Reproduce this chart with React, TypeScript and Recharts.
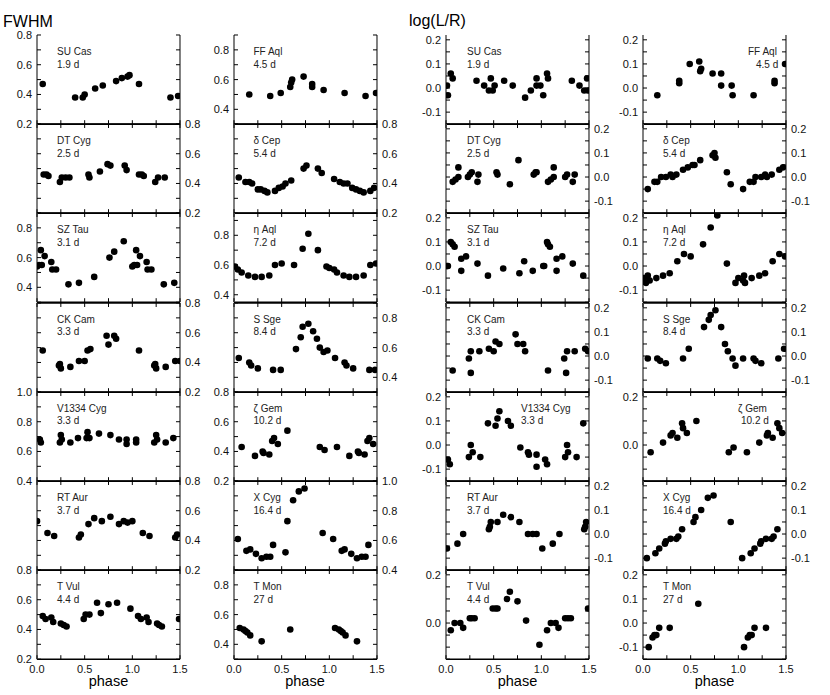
import React from 'react';
import { ScatterChart, Scatter, XAxis, YAxis } from 'recharts';

const FONT = '"Liberation Sans", Arial, Helvetica, sans-serif';

// phase axis
const phaseTicks = [0, 0.25, 0.5, 0.75, 1, 1.25, 1.5];
const phaseLabels = [0, 0.5, 1, 1.5];

// y ticks and labels
const ticks28 = [0.2, 0.3, 0.4, 0.5, 0.6, 0.7, 0.8];
const ticks39 = [0.3, 0.4, 0.5, 0.6, 0.7, 0.8, 0.9];
const ticks49 = [0.4, 0.5, 0.6, 0.7, 0.8, 0.9];
const ticks410 = [0.4, 0.5, 0.6, 0.7, 0.8, 0.9, 1.0];
const logTicks = [-0.15, -0.1, -0.05, 0, 0.05, 0.1, 0.15, 0.2];
const labels28 = [0.2, 0.4, 0.6, 0.8];
const labels48 = [0.4, 0.6, 0.8];
const labels410 = [0.4, 0.6, 0.8, 1.0];
const logLabels = [-0.1, 0, 0.1, 0.2];
const logLabelsShort = [0, 0.2];

// stars
const shortStars = ['SU Cas', 'DT Cyg', 'SZ Tau', 'CK Cam', 'V1334 Cyg', 'RT Aur', 'T Vul'];
const shortPeriods = ['1.9 d', '2.5 d', '3.1 d', '3.3 d', '3.3 d', '3.7 d', '4.4 d'];
const longStars = ['FF Aql', 'δ Cep', 'η Aql', 'S Sge', 'ζ Gem', 'X Cyg', 'T Mon'];
const longPeriods = ['4.5 d', '5.4 d', '7.2 d', '8.4 d', '10.2 d', '16.4 d', '27 d'];

// FWHM, [phase, value]
const suCasFwhm = [[0.06, 0.47], [0.40, 0.38], [0.48, 0.38], [0.50, 0.40], [0.61, 0.44], [0.69, 0.46], [0.83, 0.49], [0.89, 0.51], [0.95, 0.52], [0.97, 0.53], [1.07, 0.47], [1.40, 0.38], [1.48, 0.39]];
const dtCygFwhm = [[0.07, 0.46], [0.10, 0.46], [0.12, 0.45], [0.24, 0.41], [0.26, 0.44], [0.30, 0.44], [0.34, 0.44], [0.54, 0.46], [0.55, 0.44], [0.66, 0.48], [0.74, 0.53], [0.77, 0.52], [0.92, 0.52], [0.94, 0.49], [1.07, 0.46], [1.10, 0.46], [1.12, 0.45], [1.24, 0.41], [1.27, 0.44], [1.34, 0.44]];
const szTauFwhm = [[0.00, 0.54], [0.02, 0.55], [0.04, 0.65], [0.05, 0.55], [0.08, 0.61], [0.15, 0.57], [0.16, 0.52], [0.20, 0.52], [0.33, 0.42], [0.44, 0.43], [0.60, 0.47], [0.76, 0.60], [0.81, 0.64], [0.91, 0.71], [1.00, 0.54], [1.02, 0.55], [1.04, 0.65], [1.05, 0.55], [1.08, 0.61], [1.15, 0.57], [1.16, 0.52], [1.20, 0.52], [1.33, 0.42], [1.44, 0.43]];
const ckCamFwhm = [[0.06, 0.48], [0.23, 0.38], [0.24, 0.39], [0.25, 0.36], [0.35, 0.37], [0.44, 0.41], [0.50, 0.41], [0.53, 0.48], [0.56, 0.49], [0.73, 0.58], [0.75, 0.52], [0.81, 0.58], [0.83, 0.56], [1.07, 0.48], [1.23, 0.38], [1.24, 0.39], [1.25, 0.36], [1.35, 0.37], [1.45, 0.41], [1.50, 0.41]];
const v1334CygFwhm = [[0.03, 0.68], [0.04, 0.66], [0.24, 0.66], [0.25, 0.71], [0.26, 0.68], [0.35, 0.66], [0.43, 0.69], [0.52, 0.69], [0.53, 0.73], [0.55, 0.69], [0.65, 0.72], [0.77, 0.71], [0.86, 0.68], [0.94, 0.68], [0.94, 0.65], [1.04, 0.68], [1.04, 0.66], [1.23, 0.66], [1.25, 0.71], [1.26, 0.68], [1.35, 0.66], [1.43, 0.69]];
const rtAurFwhm = [[0.00, 0.53], [0.11, 0.45], [0.18, 0.43], [0.44, 0.42], [0.46, 0.44], [0.54, 0.51], [0.60, 0.55], [0.68, 0.53], [0.77, 0.56], [0.86, 0.51], [0.91, 0.53], [0.95, 0.52], [1.00, 0.53], [1.11, 0.45], [1.18, 0.43], [1.45, 0.42], [1.47, 0.44]];
const tVulFwhm = [[0.06, 0.49], [0.09, 0.47], [0.15, 0.48], [0.17, 0.45], [0.25, 0.44], [0.28, 0.43], [0.31, 0.42], [0.49, 0.47], [0.51, 0.50], [0.55, 0.50], [0.63, 0.58], [0.67, 0.51], [0.75, 0.57], [0.84, 0.58], [0.98, 0.54], [1.06, 0.49], [1.09, 0.47], [1.15, 0.48], [1.17, 0.45], [1.26, 0.44], [1.28, 0.43], [1.31, 0.42], [1.49, 0.47]];
const ffAqlFwhm = [[0.16, 0.50], [0.38, 0.49], [0.49, 0.51], [0.59, 0.55], [0.60, 0.58], [0.61, 0.60], [0.73, 0.62], [0.82, 0.57], [0.82, 0.55], [0.94, 0.53], [1.16, 0.51], [1.38, 0.49], [1.49, 0.51]];
const dCepFwhm = [[0.05, 0.44], [0.12, 0.41], [0.16, 0.41], [0.19, 0.40], [0.25, 0.36], [0.28, 0.36], [0.32, 0.35], [0.35, 0.34], [0.43, 0.35], [0.47, 0.37], [0.51, 0.38], [0.54, 0.40], [0.60, 0.42], [0.73, 0.50], [0.76, 0.52], [0.88, 0.50], [0.92, 0.47], [1.05, 0.43], [1.11, 0.41], [1.15, 0.40], [1.19, 0.40], [1.24, 0.37], [1.28, 0.36], [1.32, 0.35], [1.36, 0.34], [1.43, 0.35], [1.47, 0.37]];
const etaAqlFwhm = [[0.01, 0.59], [0.04, 0.57], [0.08, 0.55], [0.15, 0.53], [0.22, 0.52], [0.29, 0.52], [0.37, 0.53], [0.43, 0.60], [0.50, 0.61], [0.63, 0.60], [0.72, 0.71], [0.78, 0.81], [0.88, 0.70], [0.97, 0.59], [1.00, 0.58], [1.05, 0.57], [1.08, 0.55], [1.15, 0.53], [1.21, 0.52], [1.28, 0.52], [1.36, 0.53], [1.43, 0.60], [1.49, 0.61]];
const sSgeFwhm = [[0.05, 0.53], [0.16, 0.50], [0.18, 0.48], [0.25, 0.46], [0.41, 0.45], [0.49, 0.45], [0.65, 0.59], [0.70, 0.67], [0.72, 0.74], [0.78, 0.76], [0.83, 0.71], [0.87, 0.66], [0.90, 0.60], [0.94, 0.57], [0.98, 0.58], [1.06, 0.53], [1.16, 0.50], [1.18, 0.48], [1.25, 0.46], [1.42, 0.45], [1.48, 0.45]];
const zetaGemFwhm = [[0.08, 0.43], [0.22, 0.37], [0.30, 0.40], [0.31, 0.39], [0.37, 0.38], [0.40, 0.47], [0.42, 0.49], [0.46, 0.45], [0.56, 0.54], [0.90, 0.43], [0.95, 0.41], [1.08, 0.43], [1.21, 0.37], [1.30, 0.40], [1.31, 0.39], [1.37, 0.38], [1.40, 0.47], [1.42, 0.49], [1.46, 0.45]];
const xCygFwhm = [[0.04, 0.61], [0.13, 0.53], [0.17, 0.54], [0.23, 0.51], [0.29, 0.48], [0.34, 0.49], [0.38, 0.49], [0.41, 0.57], [0.54, 0.52], [0.56, 0.73], [0.62, 0.87], [0.68, 0.93], [0.74, 0.95], [0.93, 0.65], [1.04, 0.61], [1.13, 0.53], [1.16, 0.54], [1.23, 0.51], [1.29, 0.48], [1.34, 0.49], [1.38, 0.49], [1.41, 0.57]];
const tMonFwhm = [[0.06, 0.51], [0.10, 0.50], [0.12, 0.49], [0.14, 0.48], [0.17, 0.46], [0.29, 0.42], [0.59, 0.50], [1.06, 0.51], [1.10, 0.50], [1.12, 0.49], [1.14, 0.48], [1.17, 0.46], [1.29, 0.42]];

// log(L/R), [phase, value]
const suCasLog = [[0.01, 0.01], [0.02, -0.03], [0.05, 0.06], [0.07, 0.04], [0.32, 0.03], [0.40, 0.01], [0.45, -0.01], [0.47, 0.04], [0.49, -0.01], [0.51, 0.01], [0.61, 0.03], [0.70, 0.01], [0.83, -0.04], [0.89, -0.01], [0.95, 0.04], [0.95, 0.01], [0.99, 0.01], [1.02, -0.03], [1.06, 0.06], [1.07, 0.04], [1.32, 0.03], [1.40, 0.01], [1.45, -0.01], [1.48, 0.04], [1.49, -0.01]];
const dtCygLog = [[0.07, -0.02], [0.10, -0.01], [0.13, 0.0], [0.13, 0.04], [0.23, 0.0], [0.25, 0.01], [0.27, 0.02], [0.33, -0.02], [0.34, 0.01], [0.53, 0.02], [0.54, 0.01], [0.67, -0.03], [0.76, 0.07], [0.92, 0.01], [0.94, 0.02], [0.95, 0.02], [1.07, -0.02], [1.10, -0.01], [1.13, 0.0], [1.13, 0.04], [1.25, 0.0], [1.27, 0.01], [1.33, -0.02], [1.35, 0.01]];
const szTauLog = [[0.01, 0.0], [0.02, 0.0], [0.05, 0.10], [0.07, 0.09], [0.09, 0.08], [0.16, -0.02], [0.16, 0.03], [0.21, 0.04], [0.33, 0.01], [0.44, -0.04], [0.60, -0.01], [0.77, -0.03], [0.82, 0.02], [0.91, -0.02], [1.02, 0.0], [1.03, 0.0], [1.06, 0.10], [1.07, 0.09], [1.09, 0.08], [1.16, -0.02], [1.16, 0.03], [1.22, 0.04], [1.33, 0.01], [1.44, -0.04]];
const ckCamLog = [[0.07, -0.06], [0.24, -0.01], [0.26, -0.07], [0.26, 0.02], [0.35, 0.02], [0.45, 0.03], [0.50, 0.02], [0.52, 0.06], [0.56, 0.05], [0.73, 0.09], [0.75, 0.05], [0.81, 0.05], [0.83, 0.02], [1.07, -0.06], [1.24, -0.01], [1.26, -0.07], [1.27, 0.02], [1.35, 0.02], [1.46, 0.03], [1.49, 0.02]];
const v1334CygLog = [[0.02, -0.06], [0.04, -0.08], [0.24, -0.05], [0.26, 0.0], [0.28, -0.03], [0.36, -0.05], [0.44, 0.09], [0.52, 0.08], [0.54, 0.11], [0.56, 0.14], [0.65, 0.10], [0.68, 0.08], [0.78, -0.01], [0.86, -0.03], [0.87, -0.04], [0.95, -0.04], [0.95, -0.09], [1.04, -0.06], [1.06, -0.08], [1.25, -0.05], [1.27, 0.0], [1.28, -0.03], [1.37, -0.05], [1.44, 0.09]];
const rtAurLog = [[0.01, -0.06], [0.12, -0.04], [0.18, 0.0], [0.45, 0.02], [0.46, 0.03], [0.47, 0.05], [0.54, 0.05], [0.60, 0.08], [0.68, 0.07], [0.77, 0.05], [0.86, 0.0], [0.91, 0.0], [0.95, 0.0], [1.01, -0.06], [1.12, -0.04], [1.19, 0.0], [1.45, 0.02], [1.46, 0.03], [1.47, 0.05]];
const tVulLog = [[0.05, -0.03], [0.09, 0.0], [0.15, 0.0], [0.18, -0.02], [0.25, 0.02], [0.27, 0.02], [0.30, 0.02], [0.49, 0.06], [0.52, 0.06], [0.54, 0.06], [0.64, 0.10], [0.67, 0.13], [0.75, 0.09], [0.84, 0.01], [0.98, -0.09], [1.06, -0.03], [1.10, 0.0], [1.15, 0.0], [1.18, -0.02], [1.25, 0.02], [1.28, 0.02], [1.31, 0.02], [1.49, 0.06]];
const ffAqlLog = [[0.15, -0.03], [0.38, 0.03], [0.38, 0.02], [0.49, 0.10], [0.59, 0.11], [0.60, 0.07], [0.61, 0.08], [0.73, 0.06], [0.82, 0.06], [0.82, 0.01], [0.93, 0.01], [0.94, -0.03], [1.16, -0.03], [1.38, 0.03], [1.38, 0.02], [1.49, 0.10]];
const dCepLog = [[0.05, -0.05], [0.12, -0.02], [0.15, -0.02], [0.19, 0.0], [0.24, 0.0], [0.29, 0.01], [0.31, 0.0], [0.35, 0.01], [0.42, 0.03], [0.47, 0.04], [0.52, 0.05], [0.54, 0.05], [0.60, 0.07], [0.73, 0.09], [0.75, 0.10], [0.76, 0.08], [0.88, 0.02], [0.92, -0.03], [1.05, -0.05], [1.12, -0.02], [1.16, -0.02], [1.18, 0.0], [1.24, 0.0], [1.28, 0.01], [1.30, 0.0], [1.35, 0.01], [1.43, 0.03], [1.47, 0.04]];
const etaAqlLog = [[0.01, -0.05], [0.03, -0.07], [0.05, -0.04], [0.07, -0.06], [0.14, -0.05], [0.21, -0.04], [0.28, -0.03], [0.36, 0.02], [0.43, 0.05], [0.50, 0.04], [0.63, 0.09], [0.71, 0.16], [0.78, 0.21], [0.88, 0.01], [0.97, -0.07], [1.00, -0.05], [1.05, -0.06], [1.06, -0.04], [1.07, -0.07], [1.14, -0.05], [1.22, -0.04], [1.28, -0.03], [1.36, 0.02], [1.43, 0.05], [1.49, 0.04]];
const sSgeLog = [[0.05, -0.01], [0.15, -0.01], [0.18, -0.02], [0.24, -0.03], [0.42, -0.01], [0.48, 0.03], [0.64, 0.12], [0.69, 0.15], [0.71, 0.17], [0.76, 0.19], [0.82, 0.12], [0.86, 0.05], [0.89, 0.02], [0.94, -0.01], [0.97, -0.04], [1.05, -0.01], [1.16, -0.01], [1.18, -0.02], [1.24, -0.03], [1.42, -0.01], [1.48, 0.03]];
const zetaGemLog = [[0.08, -0.03], [0.21, 0.01], [0.29, 0.04], [0.31, 0.05], [0.36, 0.03], [0.41, 0.09], [0.42, 0.07], [0.46, 0.05], [0.56, 0.10], [0.90, -0.03], [0.95, -0.01], [1.09, -0.03], [1.22, 0.01], [1.30, 0.04], [1.31, 0.05], [1.36, 0.03], [1.41, 0.09], [1.43, 0.07], [1.46, 0.05]];
const xCygLog = [[0.04, -0.10], [0.13, -0.08], [0.17, -0.06], [0.23, -0.04], [0.24, -0.03], [0.29, -0.02], [0.35, -0.02], [0.37, -0.01], [0.41, 0.02], [0.53, 0.05], [0.55, 0.07], [0.61, 0.10], [0.68, 0.15], [0.74, 0.16], [0.92, 0.05], [1.04, -0.10], [1.13, -0.08], [1.17, -0.06], [1.23, -0.04], [1.24, -0.03], [1.29, -0.02], [1.35, -0.02], [1.37, -0.01], [1.41, 0.02]];
const tMonLog = [[0.06, -0.10], [0.10, -0.06], [0.12, -0.05], [0.14, -0.05], [0.17, -0.02], [0.28, -0.02], [0.58, 0.08], [1.06, -0.10], [1.10, -0.06], [1.12, -0.05], [1.14, -0.05], [1.17, -0.02], [1.29, -0.02]];

const shortFwhm = [suCasFwhm, dtCygFwhm, szTauFwhm, ckCamFwhm, v1334CygFwhm, rtAurFwhm, tVulFwhm];
const longFwhm = [ffAqlFwhm, dCepFwhm, etaAqlFwhm, sSgeFwhm, zetaGemFwhm, xCygFwhm, tMonFwhm];
const shortLog = [suCasLog, dtCygLog, szTauLog, ckCamLog, v1334CygLog, rtAurLog, tVulLog];
const longLog = [ffAqlLog, dCepLog, etaAqlLog, sSgeLog, zetaGemLog, xCygLog, tMonLog];

// y scale of each FWHM panel
const shortFwhmDomains = [[0.2, 0.8], [0.2, 0.8], [0.3, 0.9], [0.2, 0.8], [0.4, 1.0], [0.2, 0.8], [0.2, 0.8]];
const shortFwhmTicks = [ticks28, ticks28, ticks39, ticks28, ticks410, ticks28, ticks28];
const shortFwhmLabels = [labels28, labels28, labels48, labels28, labels410, labels28, labels28];
const longFwhmDomains = [[0.3, 0.9], [0.2, 0.8], [0.35, 0.95], [0.3, 0.9], [0.2, 0.8], [0.4, 1.0], [0.3, 0.9]];
const longFwhmTicks = [ticks39, ticks28, ticks49, ticks39, ticks28, ticks410, ticks39];
const longFwhmLabels = [labels48, labels28, labels48, labels48, labels28, labels410, labels48];
const logDomain = [-0.15, 0.22];

// layout
const COL_LEFT = [37, 233.5, 446, 643];
const PLOT_W = 143;
const ROW_TOP = 35;
const ROW_H = 89.2;
const AXIS_W = 30;
const TICK = 4;

type Panel = {
  col: number;
  row: number;
  data: number[][];
  domain: number[];
  ticks: number[];
  labels: number[];
  name: string;
  period: string;
  nameDx: number;
  periodDx: number;
};

const panels: Panel[] = [];
for (let r = 0; r < 7; r++) {
  panels.push({ col: 0, row: r, data: shortFwhm[r], domain: shortFwhmDomains[r], ticks: shortFwhmTicks[r], labels: shortFwhmLabels[r], name: shortStars[r], period: shortPeriods[r], nameDx: 20, periodDx: 20 });
  panels.push({ col: 1, row: r, data: longFwhm[r], domain: longFwhmDomains[r], ticks: longFwhmTicks[r], labels: longFwhmLabels[r], name: longStars[r], period: longPeriods[r], nameDx: 20, periodDx: 20 });
  panels.push({ col: 2, row: r, data: shortLog[r], domain: logDomain, ticks: logTicks, labels: r === 6 ? logLabelsShort : logLabels, name: shortStars[r], period: shortPeriods[r], nameDx: r === 4 ? 75 : 21, periodDx: r === 4 ? 75 : 21 });
  panels.push({ col: 3, row: r, data: longLog[r], domain: logDomain, ticks: logTicks, labels: r === 4 ? logLabelsShort : logLabels, name: longStars[r], period: longPeriods[r], nameDx: r === 0 ? 105 : r === 4 ? 95 : 20, periodDx: r === 0 ? 113 : r === 4 ? 98 : 20 });
}

const near = (list: number[], v: number) => list.some((l) => Math.abs(l - v) < 1e-6);
const fmt = (v: number) => (Math.abs(v) < 1e-9 ? 0 : v).toFixed(1);

function YTick(props: any) {
  const { x, y, payload, side, labels, showText } = props;
  const v = payload.value;
  const dir = side === 'left' ? 1 : -1;
  return (
    <g>
      <line x1={x} y1={y} x2={x + dir * TICK} y2={y} stroke="#000" strokeWidth={1} />
      {showText && near(labels, v) && (
        <text x={x - dir * 5} y={y} dy="0.36em" textAnchor={side === 'left' ? 'end' : 'start'} fontSize={11} fontFamily={FONT} fill="#111">
          {fmt(v)}
        </text>
      )}
    </g>
  );
}

function XTick(props: any) {
  const { x, y, payload, side, showText } = props;
  const v = payload.value;
  const dir = side === 'bottom' ? -1 : 1;
  return (
    <g>
      <line x1={x} y1={y} x2={x} y2={y + dir * TICK} stroke="#000" strokeWidth={1} />
      {showText && near(phaseLabels, v) && (
        <text x={x} y={y + 14} textAnchor="middle" fontSize={11} fontFamily={FONT} fill="#111">
          {fmt(v)}
        </text>
      )}
    </g>
  );
}

const Dot = (p: any) => <circle cx={p.cx} cy={p.cy} r={3.3} fill="#000" />;

function PanelChart({ p }: { p: Panel }) {
  const bottomRow = p.row === 6;
  const hasTop = p.row > 0;
  const labelSide = p.row % 2 === 0 ? 'left' : 'right';
  const padT = 10;
  const padB = bottomRow ? 22 : 10;
  const top = ROW_TOP + p.row * ROW_H;
  const data = p.data.map(([x, y]) => ({ x, y }));
  // each x axis takes 1px of band; the margins give it back so the plot box keeps its size
  return (
    <div style={{ position: 'absolute', left: COL_LEFT[p.col] - AXIS_W, top: top - padT }}>
      <ScatterChart
        width={PLOT_W + 2 * AXIS_W}
        height={ROW_H + padT + padB}
        margin={{ top: hasTop ? padT - 1 : padT, bottom: padB - 1, left: 0, right: 0 }}
      >
        <XAxis
          xAxisId="b"
          type="number"
          dataKey="x"
          orientation="bottom"
          domain={[0, 1.5]}
          ticks={phaseTicks}
          interval={0}
          height={1}
          tickSize={0}
          tickMargin={0}
          allowDataOverflow
          axisLine={{ stroke: '#000', strokeWidth: 1.5 }}
          tickLine={false}
          tick={(t: any) => <XTick {...t} side="bottom" showText={bottomRow} />}
        />
        {hasTop && (
          <XAxis
            xAxisId="t"
            type="number"
            dataKey="x"
            orientation="top"
            domain={[0, 1.5]}
            ticks={phaseTicks}
            interval={0}
            height={1}
            tickSize={0}
            tickMargin={0}
            allowDataOverflow
            axisLine={{ stroke: '#000', strokeWidth: 1.5 }}
            tickLine={false}
            tick={(t: any) => <XTick {...t} side="top" showText={false} />}
          />
        )}
        <YAxis
          yAxisId="l"
          type="number"
          dataKey="y"
          orientation="left"
          width={AXIS_W}
          domain={p.domain}
          ticks={p.ticks}
          interval={0}
          tickSize={0}
          tickMargin={0}
          allowDataOverflow
          axisLine={{ stroke: '#808080', strokeWidth: 2 }}
          tickLine={false}
          tick={(t: any) => <YTick {...t} side="left" labels={p.labels} showText={labelSide === 'left'} />}
        />
        <YAxis
          yAxisId="r"
          type="number"
          dataKey="y"
          orientation="right"
          width={AXIS_W}
          domain={p.domain}
          ticks={p.ticks}
          interval={0}
          tickSize={0}
          tickMargin={0}
          allowDataOverflow
          axisLine={{ stroke: '#000', strokeWidth: 1 }}
          tickLine={false}
          tick={(t: any) => <YTick {...t} side="right" labels={p.labels} showText={labelSide === 'right'} />}
        />
        <Scatter xAxisId="b" yAxisId="l" data={data} shape={Dot} isAnimationActive={false} />
      </ScatterChart>
    </div>
  );
}

export default function App() {
  return (
    <div style={{ position: 'absolute', left: 0, top: 0, width: 830, height: 695, background: '#fff', fontFamily: FONT }}>
      {panels.map((p) => (
        <PanelChart key={`${p.col}-${p.row}`} p={p} />
      ))}
      <svg width={830} height={695} style={{ position: 'absolute', left: 0, top: 0, pointerEvents: 'none' }}>
        <text x={3} y={26.5} fontSize={16} fontFamily={FONT} fill="#000">FWHM</text>
        <text x={409} y={26} fontSize={16} fontFamily={FONT} fill="#000">log(L/R)</text>
        {panels.map((p) => {
          const left = COL_LEFT[p.col];
          const top = ROW_TOP + p.row * ROW_H;
          return (
            <g key={`lab-${p.col}-${p.row}`} fontSize={10} fontFamily={FONT} fill="#222">
              <text x={left + p.nameDx} y={top + 20}>{p.name}</text>
              <text x={left + p.periodDx} y={top + 32.5}>{p.period}</text>
            </g>
          );
        })}
        {COL_LEFT.map((left, i) => (
          <text key={`ph-${i}`} x={left + PLOT_W / 2} y={686} textAnchor="middle" fontSize={14.5} fontFamily={FONT} fill="#000">
            phase
          </text>
        ))}
      </svg>
    </div>
  );
}
